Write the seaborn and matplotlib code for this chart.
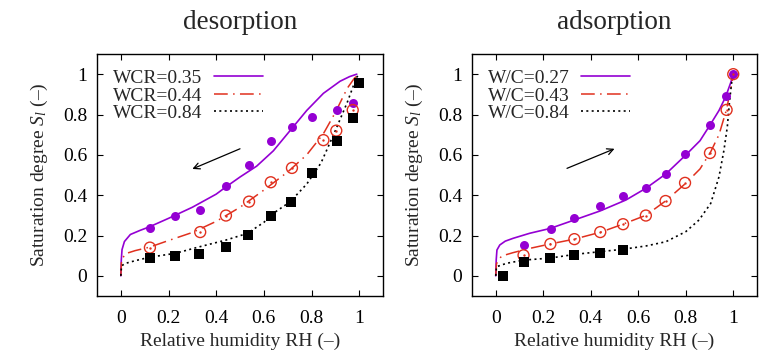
import numpy as np
import pandas as pd
import matplotlib
matplotlib.use("Agg")
import matplotlib.pyplot as plt
import seaborn as sns

# ---------------- data ----------------
titles = ["desorption", "adsorption"]
labels_des = ["WCR=0.35", "WCR=0.44", "WCR=0.84"]
labels_ads = ["W/C=0.27", "W/C=0.43", "W/C=0.84"]
x_ticks = [0, 0.2, 0.4, 0.6, 0.8, 1]
y_ticks = [0, 0.2, 0.4, 0.6, 0.8, 1]
x_tick_labels = ["0", "0.2", "0.4", "0.6", "0.8", "1"]
y_tick_labels = ["0", "0.2", "0.4", "0.6", "0.8", "1"]

# desorption measured points
des_a_x = [0.122, 0.229, 0.333, 0.441, 0.538, 0.632, 0.718, 0.803, 0.907, 0.975]
des_a_y = [0.239, 0.295, 0.327, 0.444, 0.552, 0.667, 0.738, 0.786, 0.824, 0.857]
des_b_x = [0.122, 0.333, 0.441, 0.538, 0.629, 0.718, 0.850, 0.904, 0.973]
des_b_y = [0.140, 0.217, 0.299, 0.368, 0.464, 0.535, 0.673, 0.720, 0.822]
des_c_x = [0.122, 0.229, 0.329, 0.441, 0.535, 0.632, 0.716, 0.803, 0.906, 0.975, 1.0]
des_c_y = [0.087, 0.097, 0.108, 0.141, 0.202, 0.297, 0.366, 0.508, 0.669, 0.784, 0.955]

# desorption model curves
des_ca_x = [0, 0.002, 0.005, 0.015, 0.04, 0.08, 0.12, 0.2, 0.3, 0.4, 0.44, 0.5, 0.57, 0.64, 0.71, 0.78, 0.85, 0.92, 0.96, 0.99]
des_ca_y = [0, 0.08, 0.13, 0.17, 0.205, 0.225, 0.243, 0.285, 0.34, 0.405, 0.44, 0.49, 0.544, 0.62, 0.72, 0.82, 0.905, 0.965, 0.988, 1.0]
des_cb_x = [0, 0.003, 0.02, 0.06, 0.12, 0.2, 0.3, 0.4, 0.5, 0.6, 0.7, 0.78, 0.85, 0.9, 0.95, 0.98, 1.0]
des_cb_y = [0, 0.08, 0.11, 0.125, 0.142, 0.175, 0.215, 0.27, 0.34, 0.425, 0.515, 0.6, 0.705, 0.81, 0.93, 0.98, 1.0]
des_cc_x = [0, 0.003, 0.02, 0.06, 0.12, 0.23, 0.33, 0.44, 0.53, 0.6, 0.64, 0.71, 0.78, 0.84, 0.9, 0.95, 0.975, 0.99, 1.0]
des_cc_y = [0, 0.05, 0.062, 0.075, 0.092, 0.112, 0.144, 0.177, 0.21, 0.265, 0.31, 0.367, 0.455, 0.56, 0.72, 0.86, 0.94, 0.985, 1.0]

# adsorption measured points
ads_a_x = [0.119, 0.231, 0.331, 0.439, 0.537, 0.632, 0.715, 0.797, 0.902, 0.969, 1.0]
ads_a_y = [0.154, 0.234, 0.285, 0.348, 0.396, 0.436, 0.506, 0.602, 0.750, 0.894, 1.0]
ads_b_x = [0.117, 0.230, 0.331, 0.440, 0.536, 0.632, 0.715, 0.797, 0.902, 0.972, 1.0]
ads_b_y = [0.102, 0.158, 0.182, 0.217, 0.256, 0.299, 0.371, 0.461, 0.609, 0.823, 1.0]
ads_c_x = [0.029, 0.118, 0.230, 0.331, 0.440, 0.537]
ads_c_y = [0.0, 0.068, 0.087, 0.102, 0.115, 0.127]

# adsorption model curves
ads_ca_x = [0, 0.002, 0.005, 0.017, 0.04, 0.073, 0.143, 0.229, 0.331, 0.44, 0.548, 0.632, 0.716, 0.80, 0.86, 0.905, 0.94, 0.968, 0.99, 1.0]
ads_ca_y = [0, 0.08, 0.128, 0.153, 0.172, 0.186, 0.211, 0.235, 0.277, 0.322, 0.376, 0.434, 0.505, 0.599, 0.67, 0.753, 0.82, 0.888, 0.96, 1.0]
ads_cb_x = [0, 0.003, 0.024, 0.073, 0.143, 0.229, 0.331, 0.443, 0.535, 0.632, 0.716, 0.80, 0.86, 0.905, 0.94, 0.971, 0.99, 1.0]
ads_cb_y = [0, 0.06, 0.098, 0.115, 0.136, 0.158, 0.182, 0.217, 0.256, 0.30, 0.372, 0.459, 0.53, 0.615, 0.70, 0.822, 0.93, 1.0]
ads_cc_x = [0, 0.003, 0.045, 0.117, 0.229, 0.33, 0.441, 0.537, 0.632, 0.716, 0.80, 0.856, 0.905, 0.94, 0.961, 0.975, 0.985, 0.996, 1.0]
ads_cc_y = [0, 0.045, 0.062, 0.078, 0.088, 0.106, 0.12, 0.132, 0.148, 0.169, 0.219, 0.277, 0.359, 0.491, 0.624, 0.739, 0.872, 0.987, 1.0]

# direction arrows (start -> end) in data units
des_arrow = [(0.50, 0.63), (0.30, 0.53)]
ads_arrow = [(0.30, 0.533), (0.50, 0.63)]

# ---------------- style ----------------
sns.set_theme(style="ticks")
plt.rcParams["font.family"] = ["Liberation Serif", "DejaVu Serif"]
plt.rcParams["mathtext.fontset"] = "custom"
plt.rcParams["mathtext.rm"] = "Liberation Serif"
plt.rcParams["mathtext.it"] = "Liberation Serif:italic"
plt.rcParams["axes.linewidth"] = 1.0
plt.rcParams["axes.edgecolor"] = "black"

PURPLE = "#9400d3"
RED = "#e0301e"
BLACK = "black"

fig = plt.figure(figsize=(7.73, 3.58), dpi=100)
ax1 = fig.add_axes([97 / 773, 1 - 296 / 358, 286 / 773, 242 / 358])
ax2 = fig.add_axes([472 / 773, 1 - 296 / 358, 285 / 773, 242 / 358])

panels = [
    (ax1, titles[0], labels_des,
     (des_ca_x, des_ca_y), (des_cb_x, des_cb_y), (des_cc_x, des_cc_y),
     (des_a_x, des_a_y), (des_b_x, des_b_y), (des_c_x, des_c_y), des_arrow),
    (ax2, titles[1], labels_ads,
     (ads_ca_x, ads_ca_y), (ads_cb_x, ads_cb_y), (ads_cc_x, ads_cc_y),
     (ads_a_x, ads_a_y), (ads_b_x, ads_b_y), (ads_c_x, ads_c_y), ads_arrow),
]

for ax, title, labs, ca, cb, cc, pa, pb, pc, arr in panels:
    # model curves
    sns.lineplot(x=ca[0], y=ca[1], ax=ax, color=PURPLE, lw=1.2, label=labs[0],
                 estimator=None, sort=False)
    sns.lineplot(x=cb[0], y=cb[1], ax=ax, color=RED, lw=1.1, label=labs[1],
                 estimator=None, sort=False, dashes=False)
    sns.lineplot(x=cc[0], y=cc[1], ax=ax, color=BLACK, lw=1.2, label=labs[2],
                 estimator=None, sort=False)
    ax.lines[1].set_linestyle((0, (9, 3.5, 1, 3.5)))
    ax.lines[2].set_linestyle((0, (1.2, 2.0)))

    # measured points
    sns.scatterplot(x=pa[0], y=pa[1], ax=ax, color=PURPLE, marker="o", s=42,
                    linewidth=0, zorder=3)
    sns.scatterplot(x=pb[0], y=pb[1], ax=ax, marker="o", s=62,
                    facecolors="none", edgecolor=RED, linewidth=1.0, zorder=3)
    sns.scatterplot(x=pb[0], y=pb[1], ax=ax, color=RED, marker="o", s=3,
                    linewidth=0, zorder=3)
    sns.scatterplot(x=pc[0], y=pc[1], ax=ax, color=BLACK, marker="s", s=58,
                    linewidth=0, zorder=3)

    ax.annotate("", xy=arr[1], xytext=arr[0],
                arrowprops=dict(arrowstyle="->", lw=0.9, color="black",
                                mutation_scale=11, shrinkA=0, shrinkB=0))

    ax.set_xlim(-0.1, 1.1)
    ax.set_ylim(-0.1, 1.1)
    ax.set_xticks(x_ticks)
    ax.set_xticklabels(x_tick_labels)
    ax.set_yticks(y_ticks)
    ax.set_yticklabels(y_tick_labels)
    ax.tick_params(direction="in", length=4.5, width=0.8, top=True, right=True,
                   labelsize=14, colors="black")
    ax.tick_params(axis="x", pad=10)
    ax.tick_params(axis="y", pad=7)
    for s in ax.spines.values():
        s.set_visible(True)
        s.set_linewidth(1.0)
        s.set_color("black")
    ax.set_title(title, fontsize=19.5, pad=18)
    ax.set_xlabel("Relative humidity RH (–)", fontsize=14, labelpad=4)
    ax.set_ylabel("Saturation degree $S_l$ (–)", fontsize=14, labelpad=9)

    leg = ax.legend(loc="upper left", bbox_to_anchor=(0.015, 0.985), frameon=False,
                    markerfirst=False, fontsize=14, handlelength=2.5,
                    handletextpad=0.6, labelspacing=0.0, borderaxespad=0.2)

fig.savefig("out.png", dpi=100)
